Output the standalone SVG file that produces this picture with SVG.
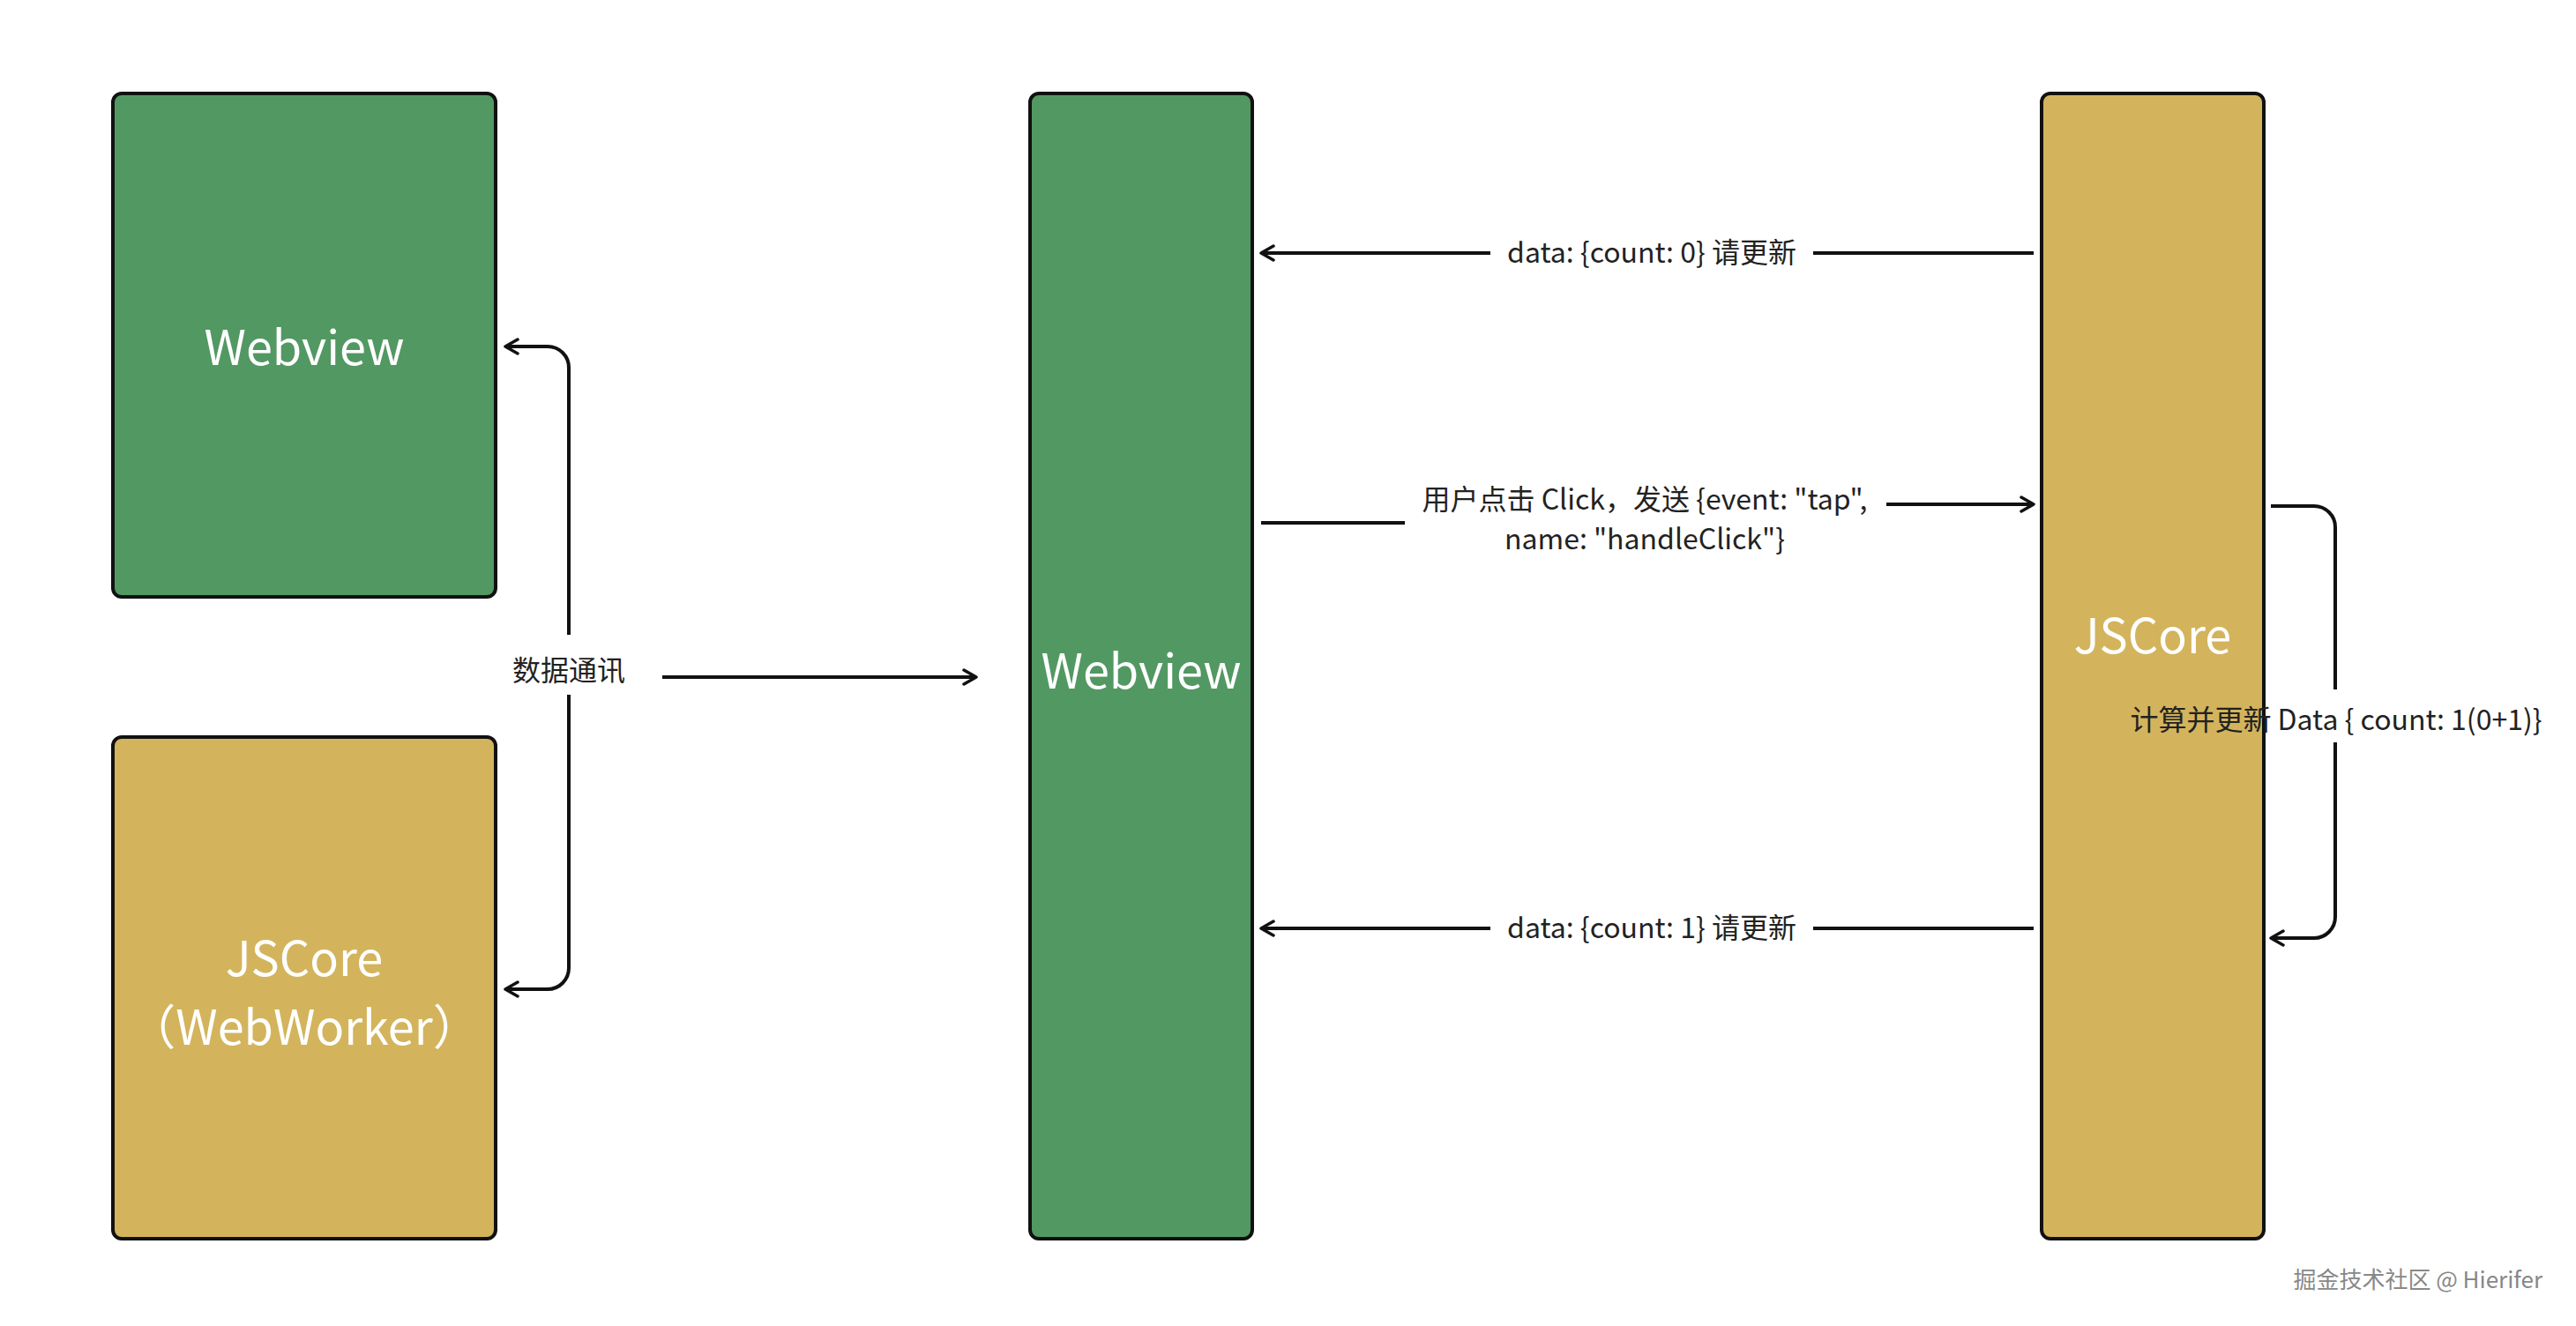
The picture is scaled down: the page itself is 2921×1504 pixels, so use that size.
<svg xmlns="http://www.w3.org/2000/svg" width="2921" height="1504" viewBox="0 0 2921 1504">
<defs>
<style>
.box{stroke:#111;stroke-width:4}
.g{fill:#529862}.y{fill:#D3B45C}
.t{font-family:"Noto Sans CJK SC","Noto Sans",sans-serif;fill:#fff;font-size:54px;text-anchor:middle}
.l{font-family:"Noto Sans CJK SC","Noto Sans",sans-serif;fill:#222;font-size:32px;text-anchor:middle}
.c{fill:none;stroke:#111;stroke-width:4}
</style>
<marker id="a" viewBox="0 0 20 20" refX="18" refY="10" markerWidth="20" markerHeight="20" markerUnits="userSpaceOnUse" orient="auto"><path d="M4 2L18 10L4 18" fill="none" stroke="#111" stroke-width="3.5" stroke-linecap="round" stroke-linejoin="round"/></marker>
</defs>
<rect width="2921" height="1504" fill="#fff"/>
<g id="webview1"><rect class="box g" x="128" y="106" width="434" height="571" rx="10"/><text class="t" x="345" y="414">Webview</text></g>
<g id="jscore1"><rect class="box y" x="128" y="836" width="434" height="569" rx="10"/><text class="t" x="345" y="1107">JSCore</text><text class="t" x="345" y="1185">（WebWorker）</text></g>
<g id="webview2"><rect class="box g" x="1168" y="106" width="252" height="1299" rx="10"/><text class="t" x="1294" y="781">Webview</text></g>
<g id="jscore2"><rect class="box y" x="2315" y="106" width="252" height="1299" rx="10"/><text class="t" x="2441" y="741">JSCore</text></g>
<g id="connectors">
<path class="c" d="M645 720V417a24 24 0 0 0-24-24H573" marker-end="url(#a)"/>
<path class="c" d="M645 788V1098a24 24 0 0 1-24 24H573" marker-end="url(#a)"/>
<text class="l" x="645" y="772">数据通讯</text>
<path class="c" d="M751 768H1107" marker-end="url(#a)"/>
<path class="c" d="M2306 287H2056"/>
<path class="c" d="M1690 287H1430" marker-end="url(#a)"/>
<text class="l" x="1873" y="298">data: {count: 0} 请更新</text>
<path class="c" d="M1430 593H1593"/>
<path class="c" d="M2139 572H2306" marker-end="url(#a)"/>
<text class="l" x="1865" y="578">用户点击 Click，发送 {event: "tap",</text>
<text class="l" x="1865" y="623">name: "handleClick"}</text>
<path class="c" d="M2306 1053H2056"/>
<path class="c" d="M1690 1053H1430" marker-end="url(#a)"/>
<text class="l" x="1873" y="1064">data: {count: 1} 请更新</text>
<path class="c" d="M2575 574H2624a24 24 0 0 1 24 24V782M2648 842V1040a24 24 0 0 1-24 24H2575" marker-end="url(#a)"/>
<text class="l" x="2649" y="828">计算并更新 Data { count: 1(0+1)}</text>
</g>
<text x="2883" y="1461" style="font-family:'Noto Sans CJK SC',sans-serif;font-size:26px;fill:#888;text-anchor:end">掘金技术社区 @ Hierifer</text>
</svg>
